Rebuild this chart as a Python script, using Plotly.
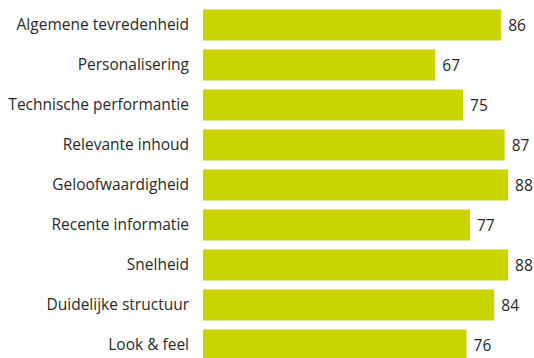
import plotly.graph_objects as go

# Survey scores per aspect (top to bottom)
categories = [
    "Algemene tevredenheid",
    "Personalisering",
    "Technische performantie",
    "Relevante inhoud",
    "Geloofwaardigheid",
    "Recente informatie",
    "Snelheid",
    "Duidelijke structuur",
    "Look & feel",
]
scores = [86, 67, 75, 87, 88, 77, 88, 84, 76]

BAR_COLOR = "#cad400"
TEXT_COLOR = "#2a2a2a"
FONT = "Open Sans"

fig = go.Figure(
    go.Bar(
        x=scores,
        y=categories,
        orientation="h",
        marker=dict(color=BAR_COLOR, line=dict(width=0)),
        width=0.77,
        text=scores,
        texttemplate=" %{x}",
        textposition="outside",
        cliponaxis=False,
        textfont=dict(family=FONT, size=15.5, color=TEXT_COLOR),
        hoverinfo="skip",
    )
)

fig.update_layout(
    width=534,
    height=358,
    margin=dict(l=203, r=5, t=5, b=0),
    paper_bgcolor="white",
    plot_bgcolor="white",
    showlegend=False,
    font=dict(family=FONT, size=15.5, color=TEXT_COLOR),
)
fig.update_xaxes(
    range=[0, 94.03],
    visible=False,
    showgrid=False,
    zeroline=False,
)
fig.update_yaxes(
    type="category",
    categoryorder="array",
    categoryarray=categories,
    range=[8.325, -0.5],
    showgrid=False,
    zeroline=False,
    showline=False,
    ticks="",
    ticklabelstandoff=13,
    tickfont=dict(family=FONT, size=15.5, color=TEXT_COLOR),
)

fig.write_html("out.html")
